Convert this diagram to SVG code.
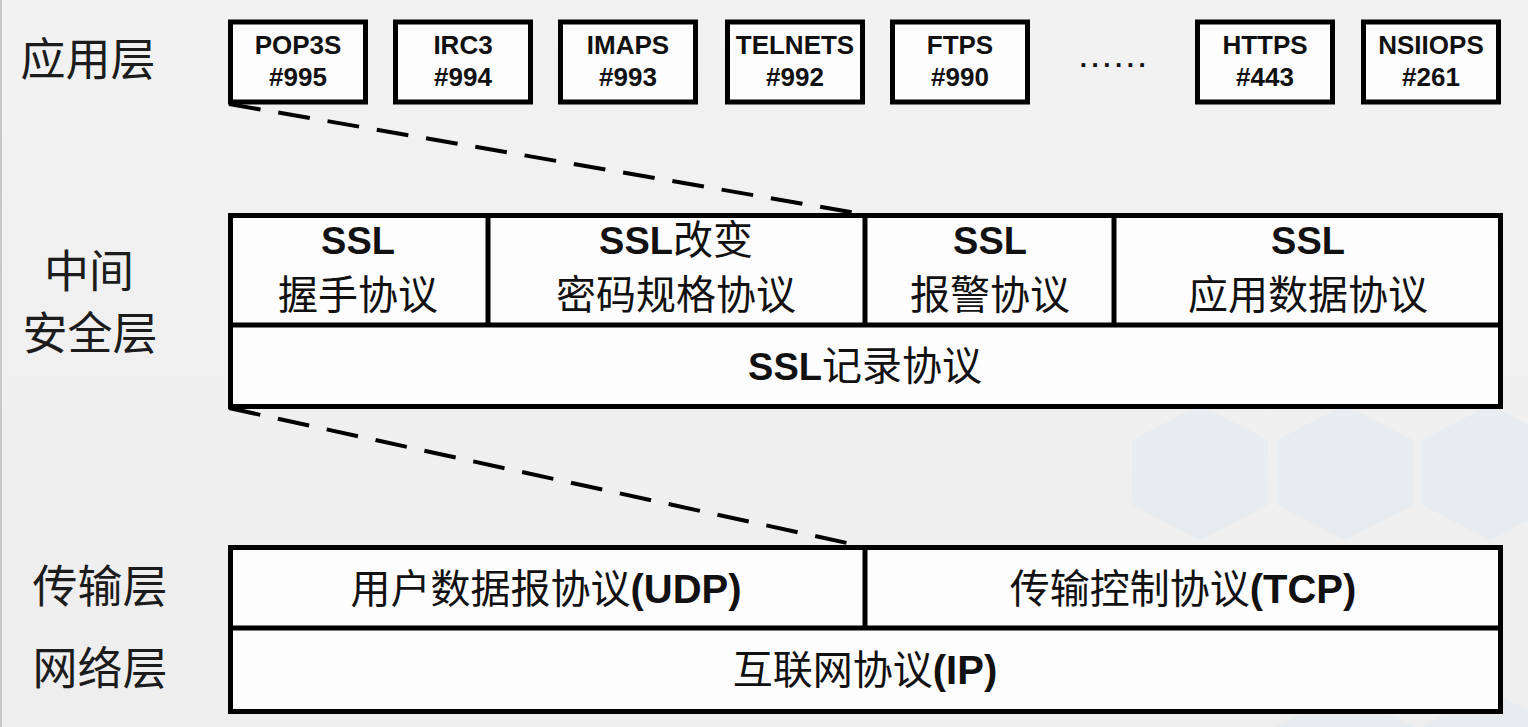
<svg xmlns="http://www.w3.org/2000/svg" width="1528" height="727" viewBox="0 0 1528 727">
<defs>
<style>
.box{fill:#fdfdfd;stroke:#000;stroke-width:5;stroke-linejoin:miter}
.div{stroke:#000;stroke-width:5;fill:none}
.dash{stroke:#000;stroke-width:4;fill:none;stroke-dasharray:32 18}
.t{font-family:"Liberation Sans","Noto Sans CJK SC",sans-serif;fill:#111;text-anchor:middle}
.b{font-weight:bold}
.port{font-size:26px;font-weight:bold}
.big{font-size:40px}
.ssl{font-size:38px;font-weight:bold}
.lbl{font-family:"Noto Sans CJK SC",sans-serif;font-size:45px;fill:#1c1c1c;text-anchor:middle}
.hex{fill:#e4ecf0}
</style>
<linearGradient id="bg" x1="0" y1="0" x2="0" y2="1">
<stop offset="0" stop-color="#f2f2f2"/>
<stop offset="1" stop-color="#eeeeee"/>
</linearGradient>
</defs>
<rect x="0" y="0" width="1528" height="727" fill="url(#bg)"/>
<rect x="0" y="0" width="2" height="727" fill="#c8c8c8"/>
<g id="background-hexagons" opacity="0.75">
<polygon class="hex" points="1200,405 1268,440 1268,505 1200,540 1132,505 1132,440"/>
<polygon class="hex" points="1345,405 1413,440 1413,505 1345,540 1277,505 1277,440"/>
<polygon class="hex" points="1490,405 1558,440 1558,505 1490,540 1422,505 1422,440"/>
<polygon class="hex" points="1272,548 1340,583 1340,648 1272,683 1204,648 1204,583"/>
<polygon class="hex" points="1417,548 1485,583 1485,648 1417,683 1349,648 1349,583"/>
<polygon class="hex" points="1345,691 1413,726 1413,791 1345,826 1277,791 1277,726"/>
<polygon class="hex" points="1490,691 1558,726 1558,791 1490,826 1422,791 1422,726"/>
</g>

<g id="layer-labels">
<text class="lbl" x="88" y="76" font-size="46">应用层</text>
<text class="lbl" x="89" y="288" font-size="43">中间</text>
<text class="lbl" x="90" y="350">安全层</text>
<text class="lbl" x="100" y="603">传输层</text>
<text class="lbl" x="100" y="685">网络层</text>
</g>

<g id="connectors">
<line class="dash" x1="229" y1="104" x2="856" y2="213"/>
<line class="dash" x1="229" y1="408" x2="856" y2="545"/>
</g>

<g id="app-pop3s">
<rect class="box" x="230.5" y="22" width="135" height="80"/>
<text class="t port" x="298" y="54">POP3S</text>
<text class="t port" x="298" y="86">#995</text>
</g>
<g id="app-irc3">
<rect class="box" x="395.5" y="22" width="135" height="80"/>
<text class="t port" x="463" y="54">IRC3</text>
<text class="t port" x="463" y="86">#994</text>
</g>
<g id="app-imaps">
<rect class="box" x="560.5" y="22" width="135" height="80"/>
<text class="t port" x="628" y="54">IMAPS</text>
<text class="t port" x="628" y="86">#993</text>
</g>
<g id="app-telnets">
<rect class="box" x="727.5" y="22" width="135" height="80"/>
<text class="t port" x="795" y="54">TELNETS</text>
<text class="t port" x="795" y="86">#992</text>
</g>
<g id="app-ftps">
<rect class="box" x="892.5" y="22" width="135" height="80"/>
<text class="t port" x="960" y="54">FTPS</text>
<text class="t port" x="960" y="86">#990</text>
</g>
<g id="app-ellipsis">
<text class="t port" x="1115" y="67" letter-spacing="4.5">......</text>
</g>
<g id="app-https">
<rect class="box" x="1197.5" y="22" width="135" height="80"/>
<text class="t port" x="1265" y="54">HTTPS</text>
<text class="t port" x="1265" y="86">#443</text>
</g>
<g id="app-nsiiops">
<rect class="box" x="1363.5" y="22" width="135" height="80"/>
<text class="t port" x="1431" y="54">NSIIOPS</text>
<text class="t port" x="1431" y="86">#261</text>
</g>

<g id="ssl-layer">
<rect class="box" x="230.5" y="215.5" width="1270" height="191"/>
<line class="div" x1="230" y1="325" x2="1501" y2="325"/>
<line class="div" x1="488" y1="215" x2="488" y2="325"/>
<line class="div" x1="865" y1="215" x2="865" y2="325"/>
<line class="div" x1="1114" y1="215" x2="1114" y2="325"/>
</g>
<g id="ssl-handshake">
<text class="t ssl" x="358" y="254">SSL</text>
<text class="t big" x="358" y="309">握手协议</text>
</g>
<g id="ssl-change-cipher">
<text class="t big" x="676" y="254"><tspan class="b" font-size="38">SSL</tspan>改变</text>
<text class="t big" x="676" y="309">密码规格协议</text>
</g>
<g id="ssl-alert">
<text class="t ssl" x="990" y="254">SSL</text>
<text class="t big" x="990" y="309">报警协议</text>
</g>
<g id="ssl-appdata">
<text class="t ssl" x="1308" y="254">SSL</text>
<text class="t big" x="1308" y="309">应用数据协议</text>
</g>
<g id="ssl-record">
<text class="t big" x="865" y="380"><tspan class="b" font-size="38">SSL</tspan>记录协议</text>
</g>

<g id="transport-layer">
<rect class="box" x="230.5" y="547.5" width="1270" height="164"/>
<line class="div" x1="230" y1="628" x2="1501" y2="628"/>
<line class="div" x1="865" y1="547" x2="865" y2="628"/>
</g>
<g id="udp">
<text class="t big" x="546" y="603">用户数据报协议<tspan class="b">(UDP)</tspan></text>
</g>
<g id="tcp">
<text class="t big" x="1183" y="603">传输控制协议<tspan class="b">(TCP)</tspan></text>
</g>
<g id="ip">
<text class="t big" x="865" y="684">互联网协议<tspan class="b">(IP)</tspan></text>
</g>
</svg>
